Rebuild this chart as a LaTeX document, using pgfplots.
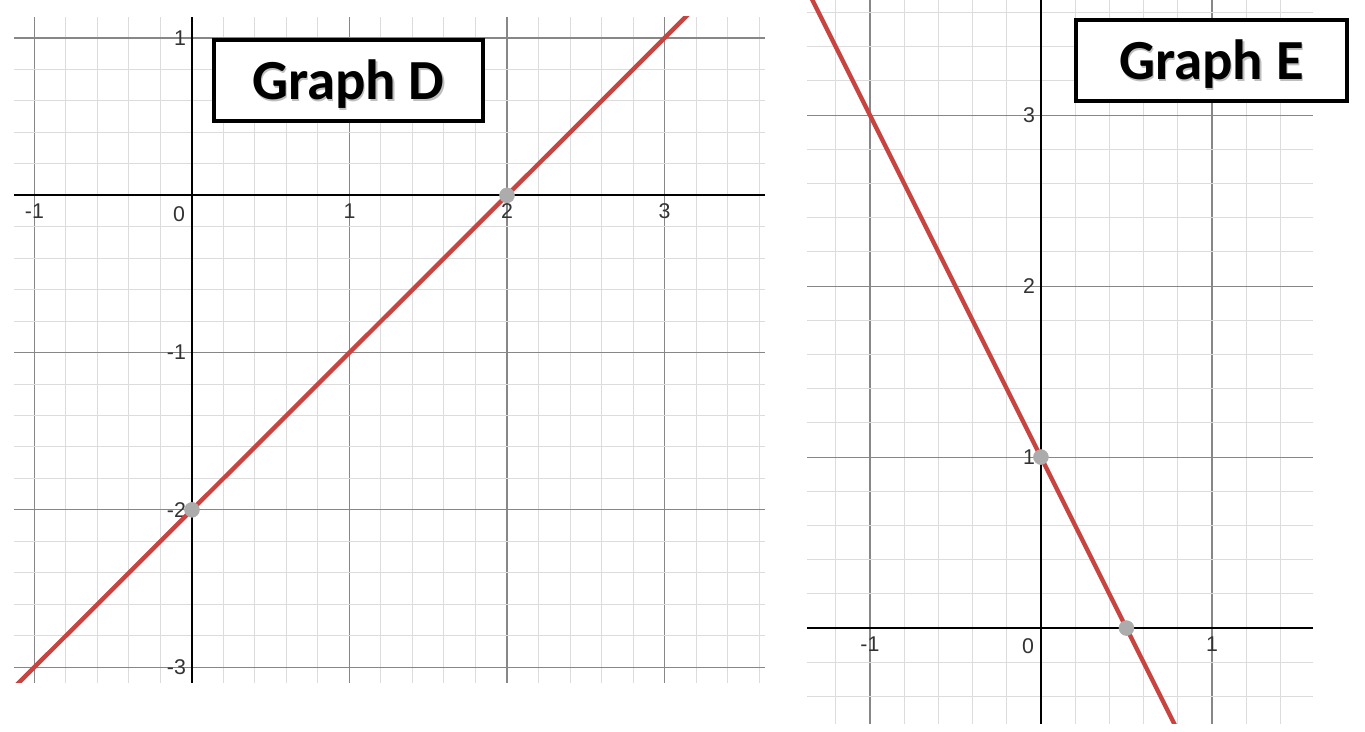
\documentclass[border=0pt]{standalone}
\usepackage{pgfplots}
\pgfplotsset{compat=1.18}
\usepackage{fontspec}
\setmainfont{Liberation Sans}
\newfontfamily\titlefont{Carlito}
\definecolor{dred}{RGB}{199,68,64}
\definecolor{ptgray}{RGB}{172,172,172}
\definecolor{majg}{RGB}{135,135,135}
\definecolor{ming}{RGB}{220,220,220}
\pgfplotsset{
  desmos/.style={
    scale only axis,
    axis lines=middle,
    axis line style={-,black,line width=1.5pt},
    every inner x axis line/.append style={-},
    every inner y axis line/.append style={-},
    grid=both,
    major grid style={majg,line width=0.85pt},
    minor grid style={ming,line width=0.75pt},
    major tick length=0pt,
    minor tick length=0pt,
    tick style={draw=none},
    ticklabel style={font=\fontsize{16}{16}\selectfont,text=black!80},
    xticklabel style={yshift=-3pt},
    yticklabel style={xshift=-1pt},
    /pgf/number format/assume math mode=true,
    clip=true,
  }
}
\begin{document}
\begin{tikzpicture}[x=0.75pt,y=0.75pt]
% Graph D
\begin{axis}[desmos,
  at={(10.5pt,36.75pt)}, anchor=south west,
  width=563.25pt, height=499.5pt,
  xmin=-1.13, xmax=3.638, ymin=-3.101, ymax=1.134,
  xtick={-1,0,1,2,3}, ytick={-3,-2,-1,0,1},
  minor xtick={-1,-0.8,...,3.61},
  minor ytick={-3,-2.8,...,1.01},
]
\addplot[dred, line width=3.3pt] coordinates {(-1.3,-3.3) (3.3,1.3)};
\addplot[only marks, mark=*, mark size=5.6pt, draw=ptgray, fill=ptgray] coordinates {(0,-2) (2,0)};
\node[anchor=north east, font=\fontsize{16}{16}\selectfont, text=black!80, inner xsep=5pt, inner ysep=8pt] at (axis cs:0,0) {0};
\end{axis}
% Graph E
\begin{axis}[desmos,
  at={(605.25pt,6pt)}, anchor=south west,
  width=379.5pt, height=543pt,
  xmin=-1.368, xmax=1.591, ymin=-0.561, ymax=3.673,
  xtick={-1,0,1}, ytick={0,1,2,3},
  minor xtick={-1.2,-1,...,1.61},
  minor ytick={-0.4,-0.2,...,3.61},
]
\addplot[dred, line width=3.3pt] coordinates {(-1.5,4) (0.9,-0.8)};
\addplot[only marks, mark=*, mark size=5.6pt, draw=ptgray, fill=ptgray] coordinates {(0,1) (0.5,0)};
\node[anchor=north east, font=\fontsize{16}{16}\selectfont, text=black!80, inner xsep=5pt, inner ysep=8pt] at (axis cs:0,0) {0};
\end{axis}
% title boxes
\draw[line width=3pt, fill=white] (214,611) rectangle (483,692);
\node[anchor=base, font=\titlefont\bfseries\fontsize{42.5}{44}\selectfont, text=black!25] at (350,630.5) {Graph D};
\node[anchor=base, font=\titlefont\bfseries\fontsize{42.5}{44}\selectfont] at (348.5,632) {Graph D};
\draw[line width=3pt, fill=white] (1076,631) rectangle (1347,712);
\node[anchor=base, font=\titlefont\bfseries\fontsize{42.5}{44}\selectfont, text=black!25] at (1213,650.5) {Graph E};
\node[anchor=base, font=\titlefont\bfseries\fontsize{42.5}{44}\selectfont] at (1211.5,652) {Graph E};
\pgfresetboundingbox
\path (0,0) rectangle (1365,732);
\end{tikzpicture}
\end{document}
